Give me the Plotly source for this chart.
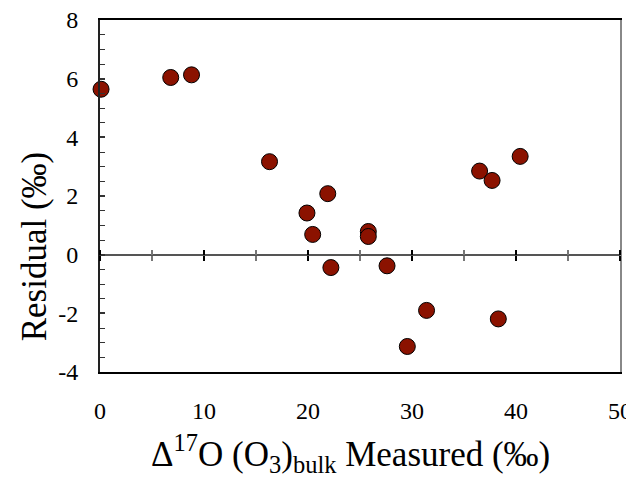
import plotly.graph_objects as go

# Data
measured = [0.1, 6.8, 8.8, 16.3, 19.9, 20.45, 21.9, 22.2, 25.8, 25.8, 27.6, 29.55, 31.4, 36.5, 37.7, 38.3, 40.4]
residual = [5.64, 6.04, 6.13, 3.17, 1.42, 0.69, 2.08, -0.44, 0.79, 0.62, -0.38, -3.13, -1.90, 2.85, 2.53, -2.19, 3.35]

x_range = [0, 50]
y_range = [-4, 8]
x_ticks = [0, 10, 20, 30, 40, 50]
x_labels = ["0", "10", "20", "30", "40", "50"]
y_ticks = [-4, -2, 0, 2, 4, 6, 8]
y_labels = ["-4", "-2", "0", "2", "4", "6", "8"]

FONT = "Liberation Serif"

fig = go.Figure()
fig.add_trace(go.Scatter(
    x=measured, y=residual, mode="markers",
    marker=dict(size=16, color="#8b1200", line=dict(color="black", width=1)),
    showlegend=False, cliponaxis=False,
))
# helper invisible traces so overlay axes are drawn
for xa in ["x2", "x3"]:
    fig.add_trace(go.Scatter(x=[0], y=[0], xaxis=xa, yaxis="y", mode="markers",
                             marker=dict(opacity=0), showlegend=False, hoverinfo="skip"))
fig.add_trace(go.Scatter(x=[0], y=[0], xaxis="x", yaxis="y2", mode="markers",
                         marker=dict(opacity=0), showlegend=False, hoverinfo="skip"))

zero_pos = (0 - y_range[0]) / (y_range[1] - y_range[0])

# page body has an 8px margin, so the figure is offset by 8px
fig.update_layout(
    width=626, height=469,
    margin=dict(l=92, r=14, t=12, b=105, autoexpand=False),
    paper_bgcolor="white", plot_bgcolor="white",
    font=dict(family=FONT, color="black"),
    xaxis=dict(
        range=x_range, tickvals=x_ticks, ticktext=x_labels, ticks="", showgrid=False, zeroline=False,
        showline=True, linecolor="black", linewidth=1.5, mirror=True, automargin=False,
        tickfont=dict(size=24, family=FONT), ticklabelstandoff=16, ticklabeloverflow="allow",
    ),
    xaxis2=dict(
        range=x_range, overlaying="x", anchor="free", position=zero_pos, side="bottom",
        dtick=10, tick0=0, ticks="outside", ticklen=5, tickwidth=2, tickcolor="black",
        minor=dict(dtick=5, tick0=0, ticks="outside", ticklen=5, tickwidth=1.5, tickcolor="#777777"),
        showticklabels=False, showgrid=False, zeroline=False, showline=False, automargin=False,
    ),
    xaxis3=dict(
        range=x_range, overlaying="x", anchor="free", position=zero_pos, side="top",
        dtick=10, tick0=0, ticks="outside", ticklen=5, tickwidth=2, tickcolor="black",
        minor=dict(dtick=5, tick0=0, ticks="outside", ticklen=5, tickwidth=1.5, tickcolor="#777777"),
        showticklabels=False, showgrid=False, zeroline=False, showline=False, automargin=False,
    ),
    yaxis=dict(
        range=y_range, tickvals=y_ticks, ticktext=y_labels, ticks="inside", ticklen=5, tickwidth=1.5,
        tickcolor="#333333",
        minor=dict(dtick=0.5, tick0=0, ticks="inside", ticklen=5, tickwidth=1.2, tickcolor="#333333"),
        showgrid=False, zeroline=True, zerolinecolor="#555555", zerolinewidth=1.5,
        showline=True, linecolor="#222222", linewidth=2, mirror=False, automargin=False,
        tickfont=dict(size=24, family=FONT), ticklabelstandoff=15, ticklabeloverflow="allow",
    ),
    yaxis2=dict(
        range=y_range, overlaying="y", side="right", anchor="x", automargin=False,
        showline=True, linecolor="#888888", linewidth=2, ticks="",
        showticklabels=False, showgrid=False, zeroline=False,
    ),
    annotations=[
        dict(text="Δ<sup>17</sup>O (O<sub>3</sub>)<sub>bulk</sub> Measured (‰)",
             xref="paper", yref="paper", x=0.481, y=-0.232, xanchor="center", yanchor="middle",
             showarrow=False, font=dict(size=35, family=FONT)),
        dict(text="Residual (‰)", textangle=-90,
             xref="paper", yref="paper", x=-0.127, y=0.357, xanchor="center", yanchor="middle",
             showarrow=False, font=dict(size=35, family=FONT)),
    ],
)

fig.write_html("out.html")
